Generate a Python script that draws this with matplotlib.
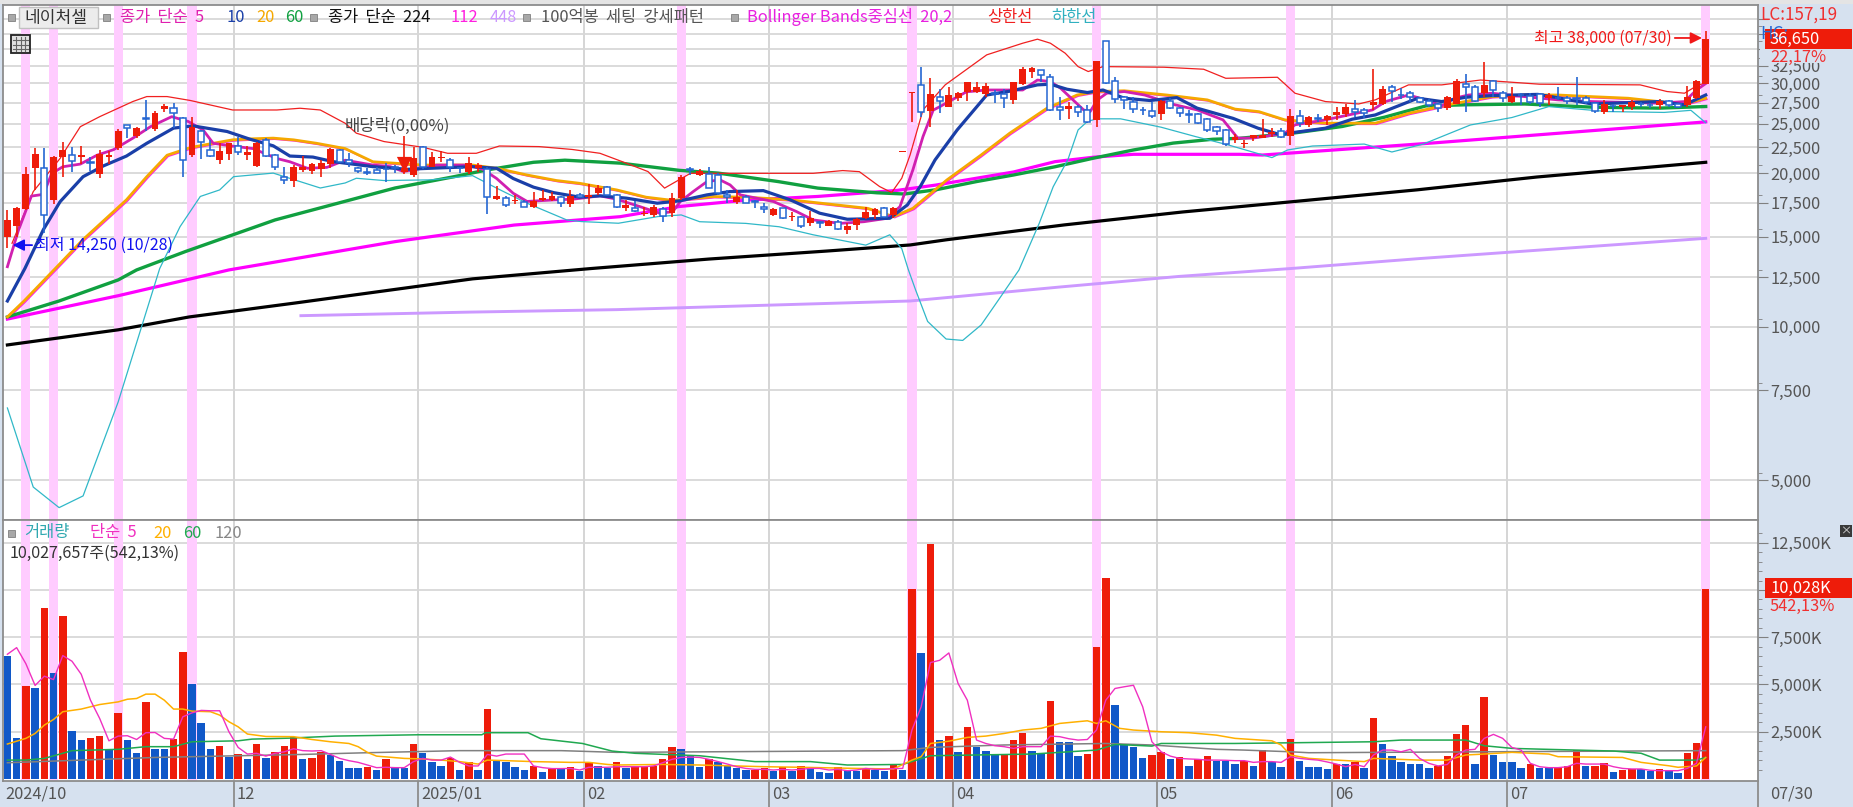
import numpy as np
import matplotlib
matplotlib.use('Agg')
import matplotlib.pyplot as plt
from matplotlib.patches import Rectangle
from matplotlib.lines import Line2D
from matplotlib.transforms import offset_copy

plt.rcParams['font.family'] = ['Noto Sans CJK KR', 'DejaVu Sans']
plt.rcParams['axes.unicode_minus'] = False

opens = [15020,15770,17000,20500,20500,17700,21460,21740,21520,21050,
19900,21520,22440,24800,23660,25620,24410,26670,26880,25620,
21680,24130,22230,21260,21840,22590,21680,20680,23240,21710,
19660,19310,20280,20200,20340,20830,22200,21200,20440,20090,
20290,20400,20590,20140,19830,22470,20590,21400,21200,20500,
20140,20440,20350,17780,17910,17600,17550,17200,17680,17730,
17940,17410,18100,17940,18260,18770,18130,17070,17120,16630,
16560,16980,16680,17860,20350,19830,19890,19830,18130,17590,
17940,17600,17190,16560,17060,16390,16390,15940,16040,15760,
16060,15480,15830,16310,16560,17110,16560,22000,28750,29780,
26480,28160,27010,28040,28810,28810,28570,28680,28570,27830,
29910,31630,31870,30820,26930,26680,27010,26600,25430,36220,
30350,28240,27620,26600,26480,26110,27750,26810,26080,26080,
25510,24600,24300,23260,22850,23420,23420,23870,24190,23660,
25890,24870,25620,25430,26000,26110,26720,26600,27220,27320,
29520,28450,28770,28040,27700,27320,26810,27320,29960,29520,
28770,30270,28770,27620,28470,28370,28530,28040,28120,28120,
28040,28040,27420,26390,27100,26930,26930,27340,27240,27220,
27750,27320,27220,28040,29960]
highs = [16930,17180,20580,22400,22400,21600,23060,22520,22590,21520,
22200,22130,24370,24800,24660,27840,26510,27340,27420,25800,
25800,24300,23240,22880,22950,23510,22590,23060,23420,21840,
20520,20700,21580,20950,21260,22440,22300,21870,20590,20440,
20590,20900,20740,23600,22540,22600,22040,22130,21370,20590,
21540,20960,20530,18880,18050,18130,17680,18400,18540,18400,
18050,18540,18260,19050,18970,18880,18210,17730,17600,17200,
17330,17200,18260,19830,20540,20350,20540,19980,18530,18530,
18100,17700,17450,17060,17100,16810,16490,16890,16110,16210,
16210,15940,16310,17190,17060,17190,17190,22100,28810,32340,
30680,29200,29470,28900,30220,30220,30090,29100,29200,30220,
32250,32340,31870,31300,28240,27620,27220,27220,33230,36220,
30820,28320,28240,27010,27620,27830,28040,27010,26600,26190,
25660,24700,24350,23850,23260,23760,25510,24500,24500,26680,
26600,25890,26080,26000,27010,27320,27830,26810,31960,29650,
29780,29400,29000,28240,27910,27500,28320,30620,31300,29700,
32970,30500,29000,29470,28680,28770,28680,28680,29470,28320,
30820,28320,27620,27830,27320,27220,27830,27620,27420,27910,
27830,27420,29650,30440,38000]
lows = [14250,15020,16930,18540,15250,17400,19680,20120,20830,20230,
19550,20830,22200,23420,23420,24130,24230,26400,24480,19680,
21520,21300,21520,20800,21260,21740,21200,20580,21520,20280,
19000,18780,20120,19950,19680,20430,20900,20590,19990,19830,
19990,19250,19990,19900,19620,20350,20530,21030,20140,19990,
19930,20140,16630,17730,17150,17390,17150,17070,17600,17600,
17200,17200,17860,17410,18130,18050,17070,16880,16810,16480,
16440,16070,16440,17730,19830,19750,18670,18130,17450,17400,
17510,17060,16690,16490,16250,16110,15600,15760,15600,15720,
15480,15170,15480,16260,16280,16310,16310,22000,25240,25740,
24680,26190,26930,27750,27750,28680,28240,27420,26810,27320,
29780,30680,30200,26520,25430,25550,25740,25050,24620,29950,
27500,26690,26190,25990,25620,25430,26680,25740,25130,25000,
24100,23700,22650,22920,22370,23090,23400,23520,23420,22700,
24600,24680,25240,24870,25430,25810,25810,25620,26600,27220,
27620,27910,27620,27420,26930,26390,26600,27320,26310,27620,
28240,28240,27620,27500,27220,27320,27010,27220,27830,27320,
27220,27320,26270,26110,26390,26390,26600,26930,26810,26680,
27010,26890,26930,27910,29910]
closes = [16190,17050,19960,21840,16520,21520,22230,21100,21740,20900,
21770,21740,24230,24480,24480,25500,26200,27130,26200,21200,
24590,23060,21620,22100,22950,22030,22030,22880,21580,20580,
19420,20520,20580,20800,20950,22340,21000,20900,20230,20030,
19990,20350,20440,20500,21370,20530,21540,21460,20530,20440,
20900,20740,17940,18050,17280,17730,17200,17650,17860,18050,
17460,18000,17940,18150,18690,18130,17200,17280,16860,16730,
17200,16480,17860,19620,20290,20200,18730,18320,17940,17990,
17510,17560,17010,17010,16310,16510,15760,16360,16000,16110,
15530,15780,16260,16770,17010,16440,17060,22100,28810,26310,
28570,27750,28410,28680,30220,29470,29650,28600,28040,30220,
31960,32200,31160,26600,26600,27090,26310,25240,33230,30000,
27910,27830,26720,26560,25890,27700,26890,26190,26040,25050,
24300,24190,22810,23520,22950,23700,23800,24120,23520,25890,
25050,25740,25580,25930,26310,26930,26390,26270,27620,29200,
29000,28400,28160,27620,27220,26810,28240,30270,29520,27750,
29830,29100,28040,28320,28430,27540,27420,28450,28080,27700,
28000,27540,26480,27320,27050,27220,27540,27300,27200,27750,
27220,27010,28160,30270,36650]

volume_k = [6500,2150,4900,4840,9030,5630,8640,2530,2060,2150,
2290,1570,3480,2060,1355,4050,1580,1580,2130,6740,
5000,2940,1580,1740,1180,1300,1040,1830,1130,1430,
1740,2240,1040,1110,1410,1270,950,560,560,650,
475,1040,560,560,1830,1370,880,700,1090,475,
880,475,3730,970,880,650,475,700,390,530,
530,630,440,880,700,600,880,560,700,630,
700,1040,1670,1600,1230,650,1040,880,740,560,
475,475,560,420,630,420,700,630,390,320,
630,420,420,560,475,420,740,475,10050,6650,
12440,2060,2290,1430,2760,1670,1500,1300,1300,2060,
2450,1500,1340,4120,1940,1940,1200,1340,6970,10610,
3890,1830,1670,1110,1270,1430,1040,1160,700,1040,
1200,970,970,790,930,700,1510,880,630,2130,
970,630,630,545,790,790,880,560,3240,1830,
1200,880,790,790,560,700,1200,2380,2850,790,
4360,1270,880,880,560,790,560,600,600,700,
1510,700,700,830,390,475,545,510,420,545,
420,320,1360,1880,10028]
volume_dir = ("BBRBRBRBBR" "RBRBBRBBRR" "BBBRBRBRBR" "RRBRRBBBBR" "BRBBRBBBRB"
              "RBRBBBBRBR" "BRBRBBRBRR" "RRRBBBRBBB" "BRRBRBRBBB" "RBBRBBRBRB"
              "RBRBRBBBRR" "RBBRBBBRRR" "BBBBRRBRBR" "RBBBRBRBBR" "BBBBRBRBRB"
              "BBBBBRRRRB" "RBBBBRBBRR" "RBRRBRRBBR" "BBRRR")

vol_ma5 = [6600,6950,6100,4950,5440,5260,6530,6230,5540,4170,3200,2020,2270,2290,2090,2450,2460,2150,2110,3290,
3500,3630,3610,3610,2500,1670,1320,1360,1210,1360,1440,1600,1500,1480,1500,1300,1090,970,880,740,
600,620,600,600,920,1090,1000,1000,1160,880,690,690,1300,1210,1320,1320,1320,690,600,550,
550,560,475,620,620,620,650,650,650,650,690,860,1040,1140,1160,1140,1040,920,790,650,
560,510,510,475,510,475,510,560,560,475,510,440,475,560,510,510,550,560,2590,3820,
6160,6280,6670,5050,4170,2060,1880,1760,1710,1620,1710,1710,1710,2270,2240,2130,2060,2090,2590,4170,
4790,4880,4960,3820,1970,1440,1210,1090,1060,1040,1000,1000,990,970,970,880,920,920,880,1180,
1090,1040,1000,900,790,650,770,650,1270,1530,1530,1440,1570,1090,830,690,770,1270,1530,1570,
2150,2360,2150,1670,1530,830,650,600,600,650,830,790,790,790,650,560,530,530,460,440,
440,440,560,830,2760]

vol_ma20_i = [0,2,3,4,5,6,8,10,12,13,14,15,16,17,18,19,20,22,23,24,25,26,28,31,33,35,37,38,39,40,43,45,47,49,51,52,54,57,61,63,65,66,
71,75,82,86,92,96,98,99,100,102,104,106,108,110,112,114,117,118,119,120.5,122,125,128,131,133,137,138,139,141,144,147,148,153,156,158,160,163,167,168,175,177,180,181,183,184]
vol_ma20 = [1850,2150,2410,2850,3150,3560,3700,3940,4080,4220,4260,4490,4490,4170,3700,3700,3590,3560,3380,3030,2760,2380,2250,2240,2090,1970,1880,1710,1410,1210,1090,1060,1000,920,790,1000,970,920,880,880,770,740,
770,740,650,620,560,530,1000,1180,1880,2000,2200,2270,2410,2590,2680,2940,3080,2940,3080,2680,2590,2500,2450,2320,2150,2020,1800,1270,1090,1000,920,1090,1000,1000,1270,1320,1410,1320,1180,1140,880,700,620,690,1140]
vol_ma60_i = [0,2,4,6,7,12,15,18,20,25,26.5,30.4,35.5,44.5,51.4,51.8,56.4,57.8,62.3,65.5,68,75,81,87,91,97,100,111,118,120,124,125,133,148,151,158,160,163,166,170,174,177,179,183,184]
vol_ma60 = [1000,1000,1090,1360,1500,1570,1710,1710,1970,2020,2110,2160,2270,2340,2340,2450,2450,2130,1880,1480,1360,1230,920,920,740,770,1230,1320,1530,1830,1740,1880,1880,1970,2060,2060,1760,1620,1580,1530,1480,1360,1000,1000,1140]
vol_ma120_i = [0,16,32,39,49,60,66,97,100,108,119,124,131,134,139,141,184]
vol_ma120 = [860,1140,1300,1390,1500,1500,1410,1500,1670,1800,1880,1800,1570,1530,1440,1390,1500]

ma224_i = [0,12,19.7,31.2,50.4,63.2,76,88.8,97.8,101.7,114.5,127.3,138.8,152.8,165.7,184]
ma224 = [9210,9860,10450,11130,12410,13000,13570,14070,14460,14800,15830,16780,17550,18550,19650,21000]
ma448_i = [31.8,50,66,97.8,114,127,139,153,184]
ma448 = [10510,10680,10800,11230,11960,12550,13000,13600,14900]
ma112_i = [0,12,24,42,54.9,66.4,72.8,80,87.8,96.4,100.6,109,113.5,117.7,122,133.5,136,154,167,184]
ma112 = [10350,11500,12920,14680,15820,16430,17200,17700,18000,18500,18950,20100,21060,21490,21770,21770,21700,22880,23860,25200]
ma60_i = [0,5.6,12,14,19.3,29,42,48.4,51.9,57,60.4,66.4,72.8,77,83.5,87.8,94.2,97.2,100.6,105,109,113.5,117.7,122,126.3,130.6,133.5,139.2,144.6,149.2,153.7,158,164.4,171.7,178.9,184]
ma60 = [10450,11230,12350,12920,14040,16190,18700,19680,20280,21000,21200,20920,20250,20000,19250,18690,18300,18200,18550,19250,19830,20580,21400,22200,22900,23300,23400,23940,24680,25740,27090,27220,27320,26930,26810,27010]
ma10_i = [0,1.9,3.9,5.7,8.2,10.4,12.9,15.1,18,20.1,23.8,26.3,28.8,30.6,33.1,35.3,39.6,43.3,45.8,50.4,53,54.8,57,59.2,62,64.2,67.1,70.4,72.9,75.8,78.3,81.9,84.8,88,91,95.6,97.5,98.9,100.5,102.9,106.1,108.6,111.6,113,114.8,117,118.7,121,123.8,126.7,128.9,132.8,135.5,138,139.2,142.8,145.7,148.2,150.7,152.8,155.4,158,160.8,165.8,167.3,171.7,178.9,181.7,184]
ma10 = [11230,13010,15500,17570,19680,20660,21600,22880,24500,24750,24130,23300,22620,21600,21500,21060,20590,20350,20440,20590,20440,19520,18770,18310,17940,18050,17860,17460,17650,18130,18400,18480,17730,16690,16240,16310,17320,18820,21220,24300,28450,28940,29780,29870,29200,28770,29100,28040,27750,28120,26810,25600,24490,23760,24000,24490,25510,26000,27090,28040,27620,28160,28370,28530,28240,27320,27620,27220,28450]
ma5_i = [0,1.2,2.6,3.9,4.8,6,7.9,9.7,11.5,13.6,15.5,17.8,19.6,21.2,22.3,24.4,26.6,29.2,30.6,32.5,34.6,36.6,39.6,41.5,42.9,44.4,46.5,49.8,51.5,53,54.8,56.3,59.5,61.3,64.2,66,68.5,70.7,72.1,72.9,74.3,75.8,77.2,78.3,79.4,83,85.5,87.3,90.2,92.8,95.3,96.7,98.1,99.2,100.3,101,103.9,106.1,108.3,110,111.6,113,114.1,116.6,117.3,118.1,119.1,121,123.2,126.5,128.9,131.7,133.3,134.9,136.6,138.4,139.5,142.8,145.3,147.9,149.3,151.8,153.7,155.4,156.8,158.3,160.8,164.4,168,171.7,178.9,181.7,183,184]
ma5 = [13110,15460,18030,18170,19960,20580,20830,21680,22230,23420,24660,25800,25240,24300,22880,22590,22340,21360,21050,20440,20520,21200,20740,20590,20140,20350,20740,20740,20350,19520,18260,17600,17730,17780,18050,17780,17200,16680,16810,17590,18400,19250,19400,18960,18130,17590,16810,16190,15940,16060,16310,17190,20290,23590,26570,26980,28860,29100,29100,29100,30440,30220,29340,26600,26390,27830,28680,28900,28450,27220,26600,25430,23420,23420,23660,23940,24870,25430,26000,26600,27620,28450,27830,27090,28040,28450,28680,28240,27830,27620,27420,27620,29100,29960]
ma20_i = [0,1.8,5.2,8.2,12.9,15.1,17.3,19.8,22.3,24.4,26.6,28.8,31,33.5,36.6,39.6,45,50.4,53,56.3,59.5,62,66,69.2,72.1,76.5,80,84.8,89.9,93.2,96,98.1,101.8,105.4,108.6,112.6,115.9,118,121,125.6,130,133,135.6,138.4,142.8,148.2,151.8,156.5,160.8,164.4,168,171.7,175.6,178.9,181.7,184]
ma20 = [10450,11230,13010,14820,17730,19680,21680,22440,22880,23240,23350,23420,23240,22880,22340,21050,20740,20740,20440,19830,19340,19100,18540,17940,17680,17990,17940,17730,17320,17060,16440,17060,19400,21640,23950,26780,28450,28900,29000,28450,27830,26700,26390,25430,25050,25050,26190,27320,28240,28450,28450,28240,28040,27620,27320,28040]
bb_up_i = [0.5,2.8,5.7,7.9,10,13.6,15.1,17.3,19.8,24.4,29.2,31.7,33.9,36.6,37.8,40.8,45,47.7,50.8,53.3,57.6,61.2,64.2,67.1,69.4,71.2,74,78.3,87.3,90.5,92.3,94.5,95.8,96.9,97.8,99.2,101.6,106.1,110,111.6,113,114.6,116,117.1,118.7,125.3,129.6,132,137.6,139.5,142.8,146.4,148.2,151.8,155.4,159.6,166,176.9,179.8,181.7,183.2,184]
bb_up = [14570,18400,21360,24660,25800,27630,28250,28250,27760,26590,26590,26800,26590,25040,23950,23060,22470,21870,21870,22600,22540,22250,21870,20900,20140,18690,19980,19980,19980,20230,20130,18820,18320,19550,21710,26600,29780,34100,35940,36600,35940,34360,32340,31630,32340,32250,31960,30680,30820,28680,27620,27320,27830,29780,29780,30440,29870,29780,28900,28680,29780,30000]
bb_low_i = [0,2.8,5.6,8.2,12,16.5,18.7,20.9,23,24.5,28.8,31.7,33.9,36.6,37.8,40.8,45.9,50.4,53,56.3,60.6,62.2,66.2,70.5,73,75,80,83.6,87.3,93,95.6,96.9,97.6,98.4,99.7,101.7,103.5,105.5,107.4,109.6,111.8,113.3,114.9,116,117,118,120.6,125,128.7,132.3,137,138.7,141.4,147,150,153.4,158.5,163,167,173.4,179.5,182.4,184]
bb_low = [6930,4850,4420,4660,7120,13000,15700,18000,18540,19680,20000,19250,18700,19130,19540,19340,19400,19770,18690,17460,16190,16070,15950,16440,16560,16060,15940,15700,15140,14450,15140,14220,12950,11800,10240,9460,9400,10080,11300,12920,15960,18800,21260,24300,25240,25550,25550,24600,23590,22700,21450,22200,22600,22800,22000,22800,24850,25700,27000,26400,26300,26550,25100]

event_bars = [2,5,12,20,73,98,118,139,184]
month_lines = [24.5,44.5,62.5,82.5,102.5,124.5,143.5,162.5]
month_labels = ['12','2025/01','02','03','04','05','06','07']
first_label = '2024/10'
price_ticks = [5000,7500,10000,12500,15000,17500,20000,22500,25000,27500,30000,32500,35000,37500,40000]
price_labelled_max = 32500
vol_ticks = [2500,5000,7500,10000,12500]
vol_hidden_label = 10000

W, H = 1853, 807
BG = '#D6E1EF'
RED = '#EE1C0A'
BLUE = '#2466D2'
VBLUE = '#1058C8'

fig = plt.figure(figsize=(W/100, H/100), dpi=100, facecolor=BG)
left, right = 3, 1758
ax = fig.add_axes([left/W, 1-520/H, (right-left)/W, (520-5)/H], facecolor='white')
av = fig.add_axes([left/W, 1-781/H, (right-left)/W, (781-520)/H], facecolor='white')

x0 = (left-7.4)/9.23
x1 = (right-7.4)/9.23
xs = np.arange(len(closes))

for a in (ax, av):
    a.set_xlim(x0, x1)
    for b in event_bars:
        a.axvspan(b-0.5, b+0.5, color='#FFCCFF', lw=0, zorder=1)
    for m in month_lines:
        a.axvline(m, color='#D2D2D2', lw=1.3, zorder=0.5)
    for s in a.spines.values():
        s.set_color('#8C8C8C')
        s.set_linewidth(1.3)

# price panel
ax.set_yscale('log')
ax.set_ylim(10000*np.exp((326.7-520)/221.6), 10000*np.exp((326.7-5)/221.6))
ax.yaxis.tick_right()
ax.set_yticks(price_ticks)
ax.set_yticklabels([f'{t:,}' if t <= price_labelled_max else '' for t in price_ticks],
                   fontsize=11.8, color='#555555')
ax.set_yticks([t*1.035 for t in price_ticks[:-1]], minor=True)
ax.set_yticklabels([], minor=True)
ax.tick_params(axis='y', which='major', length=7, color='#808080', pad=2)
ax.tick_params(axis='y', which='minor', length=3, color='#808080')
ax.set_xticks([])
ax.grid(True, axis='y', which='major', color='#D8D8D8', lw=1.3, zorder=0.5)
ax.set_axisbelow(True)

# BB middle is the same series as MA20; it shows as a thin fringe under the orange line
ax.plot(ma20_i, ma20, color='#FF20E0', lw=1.0, zorder=3,
        transform=offset_copy(ax.transData, fig=fig, x=1.2, y=-1.2, units='dots'))
lines = [
    (ma448_i, ma448, '#CC99FF', 2.1),
    (ma224_i, ma224, '#000000', 2.3),
    (ma112_i, ma112, '#FF00FF', 2.3),
    (ma60_i, ma60, '#10A040', 2.4),
    (bb_up_i, bb_up, '#F02020', 0.9),
    (bb_low_i, bb_low, '#30B8C8', 0.9),
    (ma20_i, ma20, '#F5A800', 2.0),
    (ma5_i, ma5, '#D020B0', 2.0),
    (ma10_i, ma10, '#1A3FA8', 2.3),
]
for xv, yv, col, lw in lines:
    ax.plot(xv, yv, color=col, lw=lw, zorder=3, solid_joinstyle='round')

opens_a, closes_a = np.array(opens, float), np.array(closes, float)
up = closes_a >= opens_a
ax.vlines(xs[up], np.array(lows)[up], np.array(highs)[up], color=RED, lw=1.2, zorder=4)
ax.vlines(xs[~up], np.array(lows)[~up], np.array(highs)[~up], color=BLUE, lw=1.2, zorder=4)
ax.bar(xs[up], (closes_a-opens_a)[up], bottom=opens_a[up], width=0.74, color=RED, lw=0, zorder=5)
ax.bar(xs[~up], (opens_a-closes_a)[~up], bottom=closes_a[~up], width=0.66,
       facecolor='white', edgecolor=BLUE, lw=1.1, zorder=5)

# dividend marker
ax.scatter([43], [20800], marker='v', s=120, color=RED, lw=0, zorder=6)

# high / low annotations
ax.annotate('최저 14,250 (10/28)', xy=(0.57, 14450), xytext=(16, 0), textcoords='offset points',
            fontsize=11.5, color='#1010F0', va='center', ha='left', zorder=7,
            arrowprops=dict(arrowstyle='-|>', color='#1010F0', lw=1.3, mutation_scale=17,
                            shrinkA=0, shrinkB=0, relpos=(0, 0.5)))
ax.annotate('최고 38,000 (07/30)', xy=(183.6, 36800), xytext=(-21.6, 0), textcoords='offset points',
            fontsize=11.5, color='#F01818', va='center', ha='right', zorder=7,
            arrowprops=dict(arrowstyle='-|>', color='#F01818', lw=1.3, mutation_scale=17,
                            shrinkA=0, shrinkB=0, relpos=(1, 0.5)))

# volume panel
av.set_ylim(-106, (779-520)/18.9*1000)
av.yaxis.tick_right()
av.set_yticks(vol_ticks)
av.set_yticklabels([f'{t:,}K' if t != vol_hidden_label else '' for t in vol_ticks],
                   fontsize=11.8, color='#555555')
av.set_yticks(np.arange(500, 13500, 500), minor=True)
av.set_yticklabels([], minor=True)
av.tick_params(axis='y', which='major', length=7, color='#808080', pad=2)
av.tick_params(axis='y', which='minor', length=3, color='#808080')
av.grid(True, axis='y', which='major', color='#D8D8D8', lw=1.3, zorder=0.5)
av.set_axisbelow(True)

vcols = [RED if d == 'R' else VBLUE for d in volume_dir]
av.bar(xs, volume_k, width=0.81, color=vcols, lw=0, zorder=3)
av.plot(vol_ma120_i, vol_ma120, color='#808080', lw=1.1, zorder=4)
av.plot(vol_ma60_i, vol_ma60, color='#20A850', lw=1.1, zorder=4)
av.plot(vol_ma20_i, vol_ma20, color='#FFB000', lw=1.1, zorder=4)
av.plot(xs, vol_ma5, color='#F030C0', lw=1.0, zorder=5)

# date axis
av.set_xticks(month_lines + [x1])
av.set_xticklabels([])
av.tick_params(axis='x', length=18.5, color='#8C8C8C', width=1.3)
for m, lab in zip([x0] + month_lines, [first_label] + month_labels):
    av.annotate(lab, xy=(m, 0), xycoords=('data', 'axes fraction'), xytext=(2, -3.5),
                textcoords='offset points', fontsize=11.8, color='#555555', va='top', ha='left',
                annotation_clip=False)
av.annotate('07/30', xy=(x1, 0), xycoords=('data', 'axes fraction'), xytext=(9, -3.5),
            textcoords='offset points', fontsize=11.8, color='#555555', va='top', ha='left',
            annotation_clip=False)

# header strip and overlays in figure pixels
def T(px, py, s, color, size=11.8, weight='normal', ha='left', **kw):
    return fig.text(px/W, 1-py/H, s, color=color, fontsize=size, va='center', ha=ha,
                    fontweight=weight, zorder=20, **kw)
def R(px, py, w, h, fc, ec='none', lw=0, z=15):
    fig.add_artist(Rectangle((px/W, 1-(py+h)/H), w/W, h/H, transform=fig.transFigure,
                             facecolor=fc, edgecolor=ec, linewidth=lw, zorder=z))

R(0, 0, W, 4, '#E4E4E4')
for px, py in [(8, 14), (103, 14), (310, 14), (523, 14), (731, 14), (8, 530)]:
    R(px, py, 7, 7, '#A8A8A8', '#808080', 0.6)
R(18.5, 7, 79.5, 21, '#ECECEC', '#C0C0C0', 1)
T(24, 17.5, '네이처셀', '#333333', 12.3)
T(120, 17.5, '종가  단순  5', '#E020B0')
T(227, 17.5, '10', '#1A3FA8')
T(256, 17.5, '20', '#F5A800')
T(285, 17.5, '60', '#10A040')
T(328, 17.5, '종가  단순  224', '#111111')
T(451, 17.5, '112', '#FF20E0')
T(490, 17.5, '448', '#CC99FF')
T(541, 17.5, '100억봉  세팅  강세패턴', '#555555')
T(747, 17.5, 'Bollinger Bands중심선  20,2', '#E820E0')
T(987, 17.5, '상한선', '#F02020')
T(1051, 17.5, '하한선', '#30B0C0')

R(11, 35, 19, 18, '#E0E0E0', '#222222', 1.3)
for dx in (5, 9.5, 14):
    fig.add_artist(Line2D([(11+dx)/W]*2, [1-37/H, 1-51/H], color='#666666', lw=0.8, zorder=16))
for dy in (40, 44.5, 49):
    fig.add_artist(Line2D([13/W, 28/W], [1-dy/H]*2, color='#666666', lw=0.8, zorder=16))

T(345, 126, '배당락(0,00%)', '#444444', 12.0)

T(24.5, 533, '거래량', '#30A8B0')
T(90, 533, '단순  5', '#F030C0')
T(153, 533, '20', '#FFB000')
T(183, 533, '60', '#20A850')
T(214, 533, '120', '#888888')
T(10, 553, '10,027,657주(542,13%)', '#333333', 11.6)

T(1760, 15, 'LC:157,19', '#F03030', 12.3)
T(1760, 34, 'HC:', '#2466D2', 12.3)
R(1765, 29, 87, 19.5, RED)
T(1770, 39, '36,650', '#FFFFFF', 11.8)
R(1760, 48.5, 90, 14, BG, z=14)
T(1770, 57, '22,17%', '#F03030', 11.8)

R(1765, 578, 87, 19.5, RED)
T(1770, 588, '10,028K', '#FFFFFF', 11.8)
T(1770, 606, '542,13%', '#F03030', 11.8)
R(1840, 525, 12, 12, '#3A3A3A')
T(1846, 531, '×', '#DDDDDD', 8, ha='center')

fig.savefig('out.png', dpi=100, facecolor=BG)
